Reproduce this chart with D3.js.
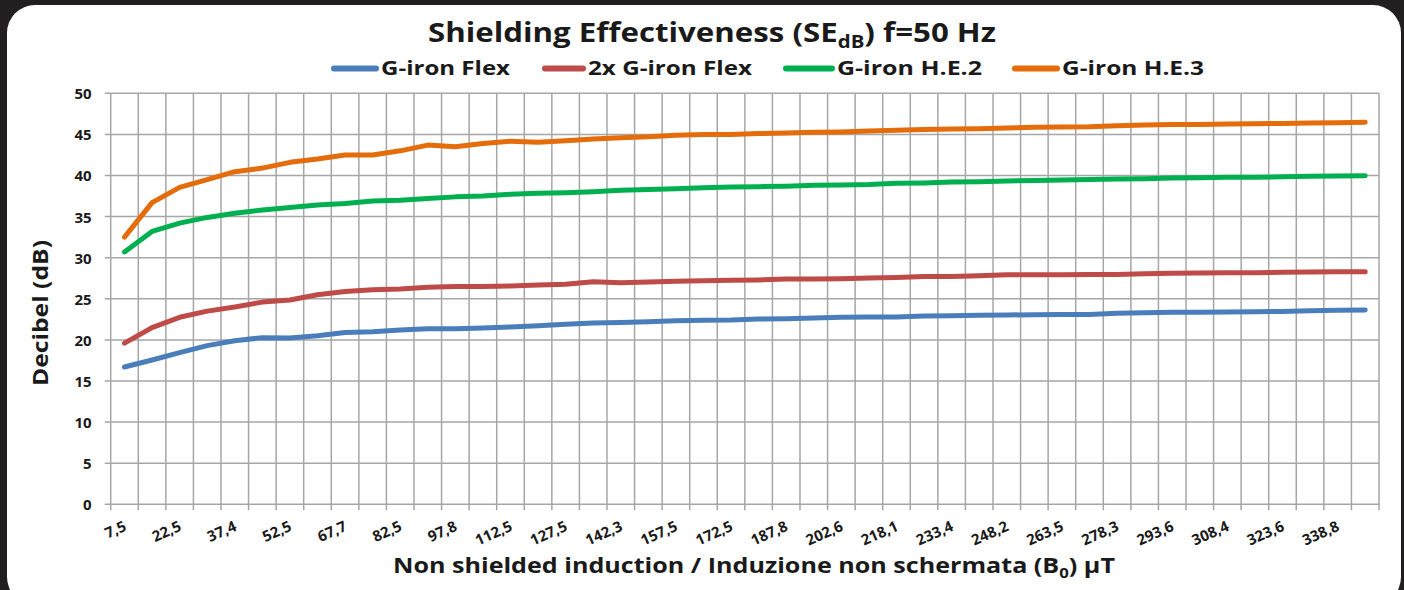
<!DOCTYPE html>
<html>
<head>
<meta charset="utf-8">
<script src="https://cdn.jsdelivr.net/npm/d3@7"></script>
<style>
  html, body { margin: 0; padding: 0; background: #231f20; }
  svg { display: block; }
  text { font-family: "Open Sans", "DejaVu Sans", sans-serif; font-weight: bold; fill: #1a1a1a; }
</style>
</head>
<body>
<svg width="1404" height="590"></svg>
<script>
// x categories: non shielded induction B0 (µT)
var induction = [7.5, 15, 22.5, 30, 37.4, 45, 52.5, 60, 67.7, 75, 82.5, 90, 97.8, 105, 112.5, 120,
  127.5, 135, 142.3, 150, 157.5, 165, 172.5, 180, 187.8, 195, 202.6, 210, 218.1, 225, 233.4, 240,
  248.2, 255, 263.5, 270, 278.3, 285, 293.6, 300, 308.4, 315, 323.6, 330, 338.8, 345];

var yTicks = [0, 5, 10, 15, 20, 25, 30, 35, 40, 45, 50];

var gironFlex = [16.7, 17.55, 18.45, 19.3, 19.9, 20.27, 20.23, 20.5, 20.9, 21.0, 21.2, 21.35, 21.35, 21.45,
  21.58, 21.73, 21.9, 22.05, 22.13, 22.2, 22.34, 22.38, 22.42, 22.54, 22.58, 22.66, 22.75, 22.8, 22.8,
  22.9, 22.95, 23.0, 23.03, 23.07, 23.1, 23.1, 23.23, 23.3, 23.35, 23.35, 23.4, 23.43, 23.47, 23.55, 23.6, 23.64];

var gironFlex2x = [19.6, 21.5, 22.75, 23.5, 24.0, 24.6, 24.85, 25.5, 25.9, 26.1, 26.2, 26.4, 26.5, 26.5,
  26.56, 26.68, 26.76, 27.08, 26.96, 27.04, 27.12, 27.2, 27.25, 27.29, 27.4, 27.4, 27.45, 27.53, 27.6,
  27.7, 27.7, 27.8, 27.93, 27.93, 27.93, 27.97, 27.97, 28.05, 28.1, 28.14, 28.18, 28.18, 28.22, 28.26, 28.3, 28.3];

var gironHE2 = [30.7, 33.2, 34.2, 34.9, 35.4, 35.8, 36.1, 36.4, 36.6, 36.9, 37.0, 37.2, 37.4, 37.5,
  37.72, 37.83, 37.9, 38.03, 38.2, 38.3, 38.4, 38.5, 38.6, 38.64, 38.7, 38.8, 38.85, 38.9, 39.05,
  39.1, 39.2, 39.25, 39.33, 39.4, 39.45, 39.5, 39.57, 39.6, 39.7, 39.73, 39.78, 39.8, 39.85, 39.9, 39.94, 39.98];

var gironHE3 = [32.5, 36.7, 38.55, 39.5, 40.46, 40.9, 41.6, 42.0, 42.5, 42.5, 43.0, 43.7, 43.5, 43.9,
  44.18, 44.04, 44.24, 44.44, 44.6, 44.7, 44.9, 45.0, 45.0, 45.1, 45.17, 45.25, 45.3, 45.4, 45.5,
  45.6, 45.66, 45.7, 45.78, 45.86, 45.9, 45.94, 46.06, 46.14, 46.2, 46.2, 46.26, 46.3, 46.34, 46.38, 46.42, 46.47];

var seriesNames = ['G-iron Flex', '2x G-iron Flex', 'G-iron H.E.2', 'G-iron H.E.3'];
var seriesColors = ['#4a7ebb', '#be4b48', '#00b050', '#e46c0a'];
var seriesValues = [gironFlex, gironFlex2x, gironHE2, gironHE3];

var svg = d3.select('svg'),
    width = +svg.attr('width'),
    height = +svg.attr('height'),
    margin = { left: 110.7, right: 1379, top: 93.3, bottom: 504.3 };

// white rounded card on dark backdrop
svg.append('rect').attr('width', width).attr('height', height).attr('fill', '#231f20');
svg.append('rect')
  .attr('x', 7).attr('y', 5).attr('width', 1394).attr('height', 600)
  .attr('rx', 28).attr('ry', 28)
  .attr('fill', '#fff');

var fmt = function(v) { return String(v).replace('.', ','); };

var x = d3.scaleBand()
  .domain(induction.map(function(d, i) { return i; }))
  .range([margin.left, margin.right])
  .padding(0);

var y = d3.scaleLinear().domain([0, 50]).range([margin.bottom, margin.top]);

// gridlines
var grid = svg.append('g').attr('class', 'grid');
var edges = induction.map(function(d, i) { return x(i); }).concat([margin.right]);
grid.selectAll('line.v')
  .data(edges)
  .enter().append('line')
  .attr('class', 'v')
  .attr('x1', function(d) { return d; }).attr('x2', function(d) { return d; })
  .attr('y1', margin.top).attr('y2', margin.bottom + 6)
  .attr('stroke', '#a6a6a6').attr('stroke-width', 1.5);

grid.selectAll('line.h')
  .data(yTicks)
  .enter().append('line')
  .attr('class', 'h')
  .attr('x1', margin.left - 6).attr('x2', margin.right)
  .attr('y1', function(d) { return y(d); }).attr('y2', function(d) { return y(d); })
  .attr('stroke', '#a6a6a6').attr('stroke-width', 1.5);

// y axis labels
var yAxis = svg.append('g')
  .attr('transform', 'translate(' + margin.left + ',0)')
  .call(d3.axisLeft(y).tickValues(yTicks).tickSize(0).tickPadding(19));
yAxis.select('.domain').remove();
yAxis.selectAll('text')
  .style('font-size', '15px')
  .style('font-family', '"Open Sans", sans-serif')
  .style('font-weight', 'bold')
  .attr('fill', '#1a1a1a')
  .attr('dy', '0.36em');

// x axis labels: every other category
var xAxis = svg.append('g')
  .attr('transform', 'translate(0,' + margin.bottom + ')')
  .call(d3.axisBottom(x)
    .tickValues(induction.map(function(d, i) { return i; }).filter(function(i) { return i % 2 === 0; }))
    .tickFormat(function(i) { return fmt(induction[i]); })
    .tickSize(0));
xAxis.select('.domain').remove();
xAxis.selectAll('text')
  .style('font-size', '15px')
  .style('font-family', '"Open Sans", sans-serif')
  .style('font-weight', 'bold')
  .attr('fill', '#1a1a1a')
  .attr('text-anchor', 'end')
  .attr('x', 3)
  .attr('y', 0)
  .attr('dy', 0)
  .attr('transform', 'translate(0,27) rotate(-24)');

// lines
var line = d3.line()
  .x(function(d, i) { return x(i) + x.bandwidth() / 2; })
  .y(function(d) { return y(d); });

svg.append('g').attr('class', 'series')
  .selectAll('path')
  .data(seriesValues)
  .enter().append('path')
  .attr('d', line)
  .attr('fill', 'none')
  .attr('stroke', function(d, i) { return seriesColors[i]; })
  .attr('stroke-width', 5)
  .attr('stroke-linejoin', 'round')
  .attr('stroke-linecap', 'round');

// title
var title = svg.append('text')
  .attr('x', 712).attr('y', 42)
  .attr('text-anchor', 'middle')
  .attr('textLength', 568).attr('lengthAdjust', 'spacingAndGlyphs')
  .style('font-size', '26px');
title.append('tspan').text('Shielding Effectiveness (SE');
title.append('tspan').text('dB').style('font-size', '17px').attr('dy', 6);
title.append('tspan').text(') f=50 Hz').attr('dy', -6);

// legend
var legendPos = [[331, 381, 129], [542, 588, 164], [783, 837, 145], [1012, 1062, 142]];
var legend = svg.append('g').selectAll('g')
  .data(seriesNames)
  .enter().append('g');
legend.append('line')
  .attr('x1', function(d, i) { return legendPos[i][0] + 3; })
  .attr('x2', function(d, i) { return legendPos[i][1] - 5; })
  .attr('y1', 68.5).attr('y2', 68.5)
  .attr('stroke', function(d, i) { return seriesColors[i]; })
  .attr('stroke-width', 6)
  .attr('stroke-linecap', 'round');
legend.append('text')
  .attr('x', function(d, i) { return legendPos[i][1]; })
  .attr('y', 75)
  .attr('textLength', function(d, i) { return legendPos[i][2]; })
  .attr('lengthAdjust', 'spacingAndGlyphs')
  .style('font-size', '20px')
  .text(function(d) { return d; });

// axis titles
var xTitle = svg.append('text')
  .attr('x', 754).attr('y', 573)
  .attr('text-anchor', 'middle')
  .attr('textLength', 722).attr('lengthAdjust', 'spacingAndGlyphs')
  .style('font-size', '21px');
xTitle.append('tspan').text('Non shielded induction / Induzione non schermata (B');
xTitle.append('tspan').text('0').style('font-size', '14px').attr('dy', 5);
xTitle.append('tspan').text(') µT').attr('dy', -5);

svg.append('text')
  .attr('transform', 'translate(48,313) rotate(-90)')
  .attr('text-anchor', 'middle')
  .attr('textLength', 146).attr('lengthAdjust', 'spacingAndGlyphs')
  .style('font-size', '21px')
  .text('Decibel (dB)');
</script>
</body>
</html>
